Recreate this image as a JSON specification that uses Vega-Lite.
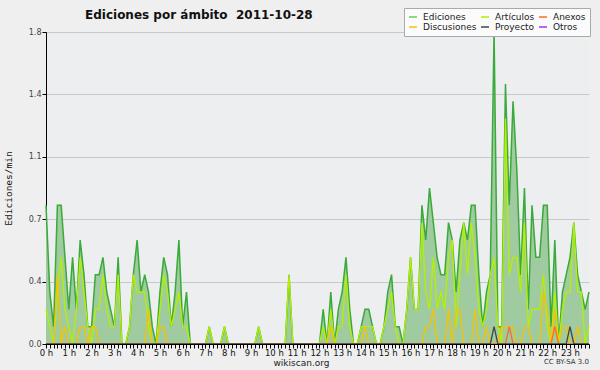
{
  "$schema": "https://vega.github.io/schema/vega-lite/v6.json",
  "width": 543,
  "height": 312,
  "autosize": "none",
  "padding": {"left": 46, "top": 32, "right": 11, "bottom": 26},
  "background": "#efefef",
  "title": {"text": "Ediciones por ámbito\u00a0 2011-10-28", "anchor": "start", "frame": "group", "dx": 39, "dy": 37, "offset": 14, "baseline": "alphabetic", "font": "DejaVu Sans", "fontSize": 12, "fontWeight": "bold", "color": "#111111"},
  "config": {"view": {"stroke": null, "fill": "#eceef0"}},
  "data": {"values": [
{"min":0,"Ediciones":0.8,"Artículos":0.2,"Discusiones":0,"Anexos":0,"Proyecto":0},
{"min":10,"Ediciones":0.3,"Artículos":0.1,"Discusiones":0,"Anexos":0,"Proyecto":0},
{"min":20,"Ediciones":0.1,"Artículos":0,"Discusiones":0,"Anexos":0,"Proyecto":0},
{"min":30,"Ediciones":0.8,"Artículos":0.3,"Discusiones":0.4,"Anexos":0,"Proyecto":0},
{"min":40,"Ediciones":0.8,"Artículos":0.5,"Discusiones":0,"Anexos":0,"Proyecto":0},
{"min":50,"Ediciones":0.5,"Artículos":0.2,"Discusiones":0.1,"Anexos":0,"Proyecto":0},
{"min":60,"Ediciones":0.2,"Artículos":0.1,"Discusiones":0,"Anexos":0,"Proyecto":0},
{"min":70,"Ediciones":0.5,"Artículos":0,"Discusiones":0,"Anexos":0,"Proyecto":0},
{"min":80,"Ediciones":0.2,"Artículos":0.2,"Discusiones":0,"Anexos":0,"Proyecto":0},
{"min":90,"Ediciones":0.6,"Artículos":0.5,"Discusiones":0.1,"Anexos":0,"Proyecto":0},
{"min":100,"Ediciones":0.4,"Artículos":0.3,"Discusiones":0.1,"Anexos":0,"Proyecto":0},
{"min":110,"Ediciones":0.1,"Artículos":0.1,"Discusiones":0,"Anexos":0,"Proyecto":0},
{"min":120,"Ediciones":0.1,"Artículos":0,"Discusiones":0.1,"Anexos":0,"Proyecto":0},
{"min":130,"Ediciones":0.4,"Artículos":0.2,"Discusiones":0.1,"Anexos":0,"Proyecto":0},
{"min":140,"Ediciones":0.4,"Artículos":0.2,"Discusiones":0,"Anexos":0,"Proyecto":0},
{"min":150,"Ediciones":0.5,"Artículos":0.4,"Discusiones":0,"Anexos":0,"Proyecto":0},
{"min":160,"Ediciones":0.3,"Artículos":0.2,"Discusiones":0,"Anexos":0,"Proyecto":0},
{"min":170,"Ediciones":0.2,"Artículos":0.1,"Discusiones":0,"Anexos":0,"Proyecto":0},
{"min":180,"Ediciones":0.1,"Artículos":0.1,"Discusiones":0,"Anexos":0,"Proyecto":0},
{"min":190,"Ediciones":0.5,"Artículos":0.4,"Discusiones":0,"Anexos":0,"Proyecto":0},
{"min":200,"Ediciones":0,"Artículos":0,"Discusiones":0,"Anexos":0,"Proyecto":0},
{"min":210,"Ediciones":0,"Artículos":0,"Discusiones":0,"Anexos":0,"Proyecto":0},
{"min":220,"Ediciones":0.1,"Artículos":0.1,"Discusiones":0,"Anexos":0,"Proyecto":0},
{"min":230,"Ediciones":0.4,"Artículos":0.4,"Discusiones":0,"Anexos":0,"Proyecto":0},
{"min":240,"Ediciones":0.6,"Artículos":0.3,"Discusiones":0,"Anexos":0,"Proyecto":0},
{"min":250,"Ediciones":0.3,"Artículos":0.3,"Discusiones":0,"Anexos":0,"Proyecto":0},
{"min":260,"Ediciones":0.4,"Artículos":0.3,"Discusiones":0,"Anexos":0,"Proyecto":0},
{"min":270,"Ediciones":0.3,"Artículos":0.1,"Discusiones":0.2,"Anexos":0,"Proyecto":0},
{"min":280,"Ediciones":0.1,"Artículos":0,"Discusiones":0,"Anexos":0,"Proyecto":0},
{"min":290,"Ediciones":0,"Artículos":0,"Discusiones":0,"Anexos":0,"Proyecto":0},
{"min":300,"Ediciones":0.3,"Artículos":0.2,"Discusiones":0.1,"Anexos":0,"Proyecto":0},
{"min":310,"Ediciones":0.5,"Artículos":0.4,"Discusiones":0.1,"Anexos":0,"Proyecto":0},
{"min":320,"Ediciones":0.4,"Artículos":0.3,"Discusiones":0,"Anexos":0,"Proyecto":0},
{"min":330,"Ediciones":0.1,"Artículos":0.1,"Discusiones":0,"Anexos":0,"Proyecto":0},
{"min":340,"Ediciones":0.3,"Artículos":0.2,"Discusiones":0,"Anexos":0,"Proyecto":0},
{"min":350,"Ediciones":0.6,"Artículos":0.3,"Discusiones":0,"Anexos":0,"Proyecto":0},
{"min":360,"Ediciones":0.1,"Artículos":0.1,"Discusiones":0,"Anexos":0,"Proyecto":0},
{"min":370,"Ediciones":0.3,"Artículos":0.1,"Discusiones":0,"Anexos":0,"Proyecto":0},
{"min":380,"Ediciones":0,"Artículos":0,"Discusiones":0,"Anexos":0,"Proyecto":0},
{"min":390,"Ediciones":0,"Artículos":0,"Discusiones":0,"Anexos":0,"Proyecto":0},
{"min":400,"Ediciones":0,"Artículos":0,"Discusiones":0,"Anexos":0,"Proyecto":0},
{"min":410,"Ediciones":0,"Artículos":0,"Discusiones":0,"Anexos":0,"Proyecto":0},
{"min":420,"Ediciones":0,"Artículos":0,"Discusiones":0,"Anexos":0,"Proyecto":0},
{"min":430,"Ediciones":0.1,"Artículos":0.1,"Discusiones":0,"Anexos":0,"Proyecto":0},
{"min":440,"Ediciones":0,"Artículos":0,"Discusiones":0,"Anexos":0,"Proyecto":0},
{"min":450,"Ediciones":0,"Artículos":0,"Discusiones":0,"Anexos":0,"Proyecto":0},
{"min":460,"Ediciones":0,"Artículos":0,"Discusiones":0,"Anexos":0,"Proyecto":0},
{"min":470,"Ediciones":0.1,"Artículos":0.1,"Discusiones":0,"Anexos":0,"Proyecto":0},
{"min":480,"Ediciones":0,"Artículos":0,"Discusiones":0,"Anexos":0,"Proyecto":0},
{"min":490,"Ediciones":0,"Artículos":0,"Discusiones":0,"Anexos":0,"Proyecto":0},
{"min":500,"Ediciones":0,"Artículos":0,"Discusiones":0,"Anexos":0,"Proyecto":0},
{"min":510,"Ediciones":0,"Artículos":0,"Discusiones":0,"Anexos":0,"Proyecto":0},
{"min":520,"Ediciones":0,"Artículos":0,"Discusiones":0,"Anexos":0,"Proyecto":0},
{"min":530,"Ediciones":0,"Artículos":0,"Discusiones":0,"Anexos":0,"Proyecto":0},
{"min":540,"Ediciones":0,"Artículos":0,"Discusiones":0,"Anexos":0,"Proyecto":0},
{"min":550,"Ediciones":0,"Artículos":0,"Discusiones":0,"Anexos":0,"Proyecto":0},
{"min":560,"Ediciones":0.1,"Artículos":0.1,"Discusiones":0,"Anexos":0,"Proyecto":0},
{"min":570,"Ediciones":0,"Artículos":0,"Discusiones":0,"Anexos":0,"Proyecto":0},
{"min":580,"Ediciones":0,"Artículos":0,"Discusiones":0,"Anexos":0,"Proyecto":0},
{"min":590,"Ediciones":0,"Artículos":0,"Discusiones":0,"Anexos":0,"Proyecto":0},
{"min":600,"Ediciones":0,"Artículos":0,"Discusiones":0,"Anexos":0,"Proyecto":0},
{"min":610,"Ediciones":0,"Artículos":0,"Discusiones":0,"Anexos":0,"Proyecto":0},
{"min":620,"Ediciones":0,"Artículos":0,"Discusiones":0,"Anexos":0,"Proyecto":0},
{"min":630,"Ediciones":0,"Artículos":0,"Discusiones":0,"Anexos":0,"Proyecto":0},
{"min":640,"Ediciones":0.4,"Artículos":0.4,"Discusiones":0,"Anexos":0,"Proyecto":0},
{"min":650,"Ediciones":0,"Artículos":0,"Discusiones":0,"Anexos":0,"Proyecto":0},
{"min":660,"Ediciones":0,"Artículos":0,"Discusiones":0,"Anexos":0,"Proyecto":0},
{"min":670,"Ediciones":0,"Artículos":0,"Discusiones":0,"Anexos":0,"Proyecto":0},
{"min":680,"Ediciones":0,"Artículos":0,"Discusiones":0,"Anexos":0,"Proyecto":0},
{"min":690,"Ediciones":0,"Artículos":0,"Discusiones":0,"Anexos":0,"Proyecto":0},
{"min":700,"Ediciones":0,"Artículos":0,"Discusiones":0,"Anexos":0,"Proyecto":0},
{"min":710,"Ediciones":0,"Artículos":0,"Discusiones":0,"Anexos":0,"Proyecto":0},
{"min":720,"Ediciones":0,"Artículos":0,"Discusiones":0,"Anexos":0,"Proyecto":0},
{"min":730,"Ediciones":0.2,"Artículos":0.1,"Discusiones":0,"Anexos":0,"Proyecto":0},
{"min":740,"Ediciones":0,"Artículos":0,"Discusiones":0,"Anexos":0,"Proyecto":0},
{"min":750,"Ediciones":0.3,"Artículos":0.2,"Discusiones":0.1,"Anexos":0,"Proyecto":0},
{"min":760,"Ediciones":0,"Artículos":0,"Discusiones":0,"Anexos":0,"Proyecto":0},
{"min":770,"Ediciones":0.2,"Artículos":0.1,"Discusiones":0,"Anexos":0,"Proyecto":0},
{"min":780,"Ediciones":0.3,"Artículos":0.1,"Discusiones":0,"Anexos":0,"Proyecto":0},
{"min":790,"Ediciones":0.5,"Artículos":0.4,"Discusiones":0,"Anexos":0,"Proyecto":0},
{"min":800,"Ediciones":0.2,"Artículos":0.1,"Discusiones":0,"Anexos":0,"Proyecto":0},
{"min":810,"Ediciones":0,"Artículos":0,"Discusiones":0,"Anexos":0,"Proyecto":0},
{"min":820,"Ediciones":0,"Artículos":0,"Discusiones":0,"Anexos":0,"Proyecto":0},
{"min":830,"Ediciones":0.1,"Artículos":0.1,"Discusiones":0,"Anexos":0,"Proyecto":0},
{"min":840,"Ediciones":0.2,"Artículos":0.1,"Discusiones":0.1,"Anexos":0,"Proyecto":0},
{"min":850,"Ediciones":0.2,"Artículos":0.1,"Discusiones":0,"Anexos":0,"Proyecto":0},
{"min":860,"Ediciones":0.1,"Artículos":0.1,"Discusiones":0,"Anexos":0,"Proyecto":0},
{"min":870,"Ediciones":0,"Artículos":0,"Discusiones":0,"Anexos":0,"Proyecto":0},
{"min":880,"Ediciones":0,"Artículos":0,"Discusiones":0,"Anexos":0,"Proyecto":0},
{"min":890,"Ediciones":0.1,"Artículos":0.1,"Discusiones":0,"Anexos":0,"Proyecto":0},
{"min":900,"Ediciones":0.3,"Artículos":0.2,"Discusiones":0,"Anexos":0,"Proyecto":0},
{"min":910,"Ediciones":0.4,"Artículos":0.3,"Discusiones":0,"Anexos":0,"Proyecto":0},
{"min":920,"Ediciones":0.1,"Artículos":0.1,"Discusiones":0,"Anexos":0,"Proyecto":0},
{"min":930,"Ediciones":0.1,"Artículos":0,"Discusiones":0,"Anexos":0,"Proyecto":0},
{"min":940,"Ediciones":0,"Artículos":0,"Discusiones":0,"Anexos":0,"Proyecto":0},
{"min":950,"Ediciones":0.2,"Artículos":0.2,"Discusiones":0,"Anexos":0,"Proyecto":0},
{"min":960,"Ediciones":0.5,"Artículos":0.5,"Discusiones":0,"Anexos":0,"Proyecto":0},
{"min":970,"Ediciones":0.2,"Artículos":0.2,"Discusiones":0,"Anexos":0,"Proyecto":0},
{"min":980,"Ediciones":0.2,"Artículos":0.2,"Discusiones":0,"Anexos":0,"Proyecto":0},
{"min":990,"Ediciones":0.8,"Artículos":0.7,"Discusiones":0,"Anexos":0,"Proyecto":0},
{"min":1000,"Ediciones":0.6,"Artículos":0.3,"Discusiones":0.1,"Anexos":0,"Proyecto":0},
{"min":1010,"Ediciones":0.9,"Artículos":0.2,"Discusiones":0.1,"Anexos":0,"Proyecto":0},
{"min":1020,"Ediciones":0.7,"Artículos":0.5,"Discusiones":0.2,"Anexos":0,"Proyecto":0},
{"min":1030,"Ediciones":0.5,"Artículos":0.2,"Discusiones":0,"Anexos":0,"Proyecto":0},
{"min":1040,"Ediciones":0.4,"Artículos":0.3,"Discusiones":0,"Anexos":0,"Proyecto":0},
{"min":1050,"Ediciones":0.4,"Artículos":0.2,"Discusiones":0,"Anexos":0,"Proyecto":0},
{"min":1060,"Ediciones":0.7,"Artículos":0.5,"Discusiones":0.2,"Anexos":0,"Proyecto":0},
{"min":1070,"Ediciones":0.6,"Artículos":0.6,"Discusiones":0,"Anexos":0,"Proyecto":0},
{"min":1080,"Ediciones":0.3,"Artículos":0.1,"Discusiones":0.2,"Anexos":0,"Proyecto":0},
{"min":1090,"Ediciones":0.6,"Artículos":0.4,"Discusiones":0.2,"Anexos":0,"Proyecto":0},
{"min":1100,"Ediciones":0.7,"Artículos":0.7,"Discusiones":0,"Anexos":0,"Proyecto":0},
{"min":1110,"Ediciones":0.6,"Artículos":0.4,"Discusiones":0,"Anexos":0,"Proyecto":0},
{"min":1120,"Ediciones":0.8,"Artículos":0.7,"Discusiones":0,"Anexos":0,"Proyecto":0},
{"min":1130,"Ediciones":0.8,"Artículos":0.5,"Discusiones":0.2,"Anexos":0,"Proyecto":0},
{"min":1140,"Ediciones":0.4,"Artículos":0.2,"Discusiones":0,"Anexos":0,"Proyecto":0},
{"min":1150,"Ediciones":0.1,"Artículos":0.1,"Discusiones":0,"Anexos":0,"Proyecto":0},
{"min":1160,"Ediciones":0.3,"Artículos":0.2,"Discusiones":0.1,"Anexos":0,"Proyecto":0},
{"min":1170,"Ediciones":0.4,"Artículos":0.4,"Discusiones":0,"Anexos":0,"Proyecto":0},
{"min":1180,"Ediciones":1.8,"Artículos":0.5,"Discusiones":0,"Anexos":0,"Proyecto":0.1},
{"min":1190,"Ediciones":0.1,"Artículos":0.1,"Discusiones":0,"Anexos":0,"Proyecto":0},
{"min":1200,"Ediciones":0.1,"Artículos":0,"Discusiones":0.1,"Anexos":0,"Proyecto":0},
{"min":1210,"Ediciones":1.5,"Artículos":1.3,"Discusiones":0.1,"Anexos":0,"Proyecto":0},
{"min":1220,"Ediciones":0.8,"Artículos":0.4,"Discusiones":0.1,"Anexos":0.1,"Proyecto":0},
{"min":1230,"Ediciones":1.4,"Artículos":0.5,"Discusiones":0.1,"Anexos":0,"Proyecto":0},
{"min":1240,"Ediciones":1.0,"Artículos":0.5,"Discusiones":0,"Anexos":0,"Proyecto":0},
{"min":1250,"Ediciones":0.4,"Artículos":0.3,"Discusiones":0,"Anexos":0,"Proyecto":0},
{"min":1260,"Ediciones":0.9,"Artículos":0.7,"Discusiones":0.1,"Anexos":0,"Proyecto":0},
{"min":1270,"Ediciones":0.2,"Artículos":0.1,"Discusiones":0.1,"Anexos":0,"Proyecto":0},
{"min":1280,"Ediciones":0.8,"Artículos":0.2,"Discusiones":0,"Anexos":0,"Proyecto":0},
{"min":1290,"Ediciones":0.5,"Artículos":0.2,"Discusiones":0,"Anexos":0,"Proyecto":0},
{"min":1300,"Ediciones":0.5,"Artículos":0.2,"Discusiones":0,"Anexos":0,"Proyecto":0},
{"min":1310,"Ediciones":0.8,"Artículos":0.4,"Discusiones":0.3,"Anexos":0,"Proyecto":0},
{"min":1320,"Ediciones":0.8,"Artículos":0.1,"Discusiones":0.2,"Anexos":0,"Proyecto":0},
{"min":1330,"Ediciones":0.1,"Artículos":0,"Discusiones":0,"Anexos":0,"Proyecto":0},
{"min":1340,"Ediciones":0.6,"Artículos":0.3,"Discusiones":0.2,"Anexos":0.1,"Proyecto":0},
{"min":1350,"Ediciones":0,"Artículos":0,"Discusiones":0,"Anexos":0,"Proyecto":0},
{"min":1360,"Ediciones":0.3,"Artículos":0.2,"Discusiones":0.1,"Anexos":0,"Proyecto":0},
{"min":1370,"Ediciones":0.4,"Artículos":0.3,"Discusiones":0.1,"Anexos":0,"Proyecto":0},
{"min":1380,"Ediciones":0.5,"Artículos":0.3,"Discusiones":0,"Anexos":0,"Proyecto":0.1},
{"min":1390,"Ediciones":0.7,"Artículos":0.7,"Discusiones":0,"Anexos":0,"Proyecto":0},
{"min":1400,"Ediciones":0.4,"Artículos":0.3,"Discusiones":0.1,"Anexos":0,"Proyecto":0},
{"min":1410,"Ediciones":0.3,"Artículos":0.3,"Discusiones":0,"Anexos":0,"Proyecto":0},
{"min":1420,"Ediciones":0.2,"Artículos":0,"Discusiones":0,"Anexos":0,"Proyecto":0},
{"min":1430,"Ediciones":0.3,"Artículos":0.1,"Discusiones":0,"Anexos":0,"Proyecto":0}
  ]},
  "layer": [
    {
      "mark": {"type": "area", "color": "#a0cba0", "opacity": 1, "line": {"color": "#3aaa3a", "strokeWidth": 1.5}},
      "encoding": {
        "x": {"field": "min", "type": "quantitative", "scale": {"domain": [0, 1430], "nice": false, "zero": false},
          "axis": {"tickCount": 144, "labelExpr": "datum.value % 60 == 0 ? (datum.value / 60) + ' h' : ''", "labelOverlap": false, "labelFlush": false, "labelBound": false, "tickSize": 4, "labelPadding": 0, "labelFont": "DejaVu Sans", "labelFontSize": 8.5, "labelColor": "#111111", "domainColor": "#000000", "tickColor": "#000000", "grid": false, "title": "wikiscan.org", "titleFont": "DejaVu Sans", "titleFontSize": 9, "titleFontWeight": "normal", "titleColor": "#222222", "titlePadding": 2, "titleX": 255, "zindex": 1}},
        "y": {"field": "Ediciones", "type": "quantitative", "scale": {"domain": [0, 1.8], "nice": false},
          "axis": {"values": [0, 0.09, 0.18, 0.27, 0.36, 0.45, 0.54, 0.63, 0.72, 0.81, 0.9, 0.99, 1.08, 1.17, 1.26, 1.35, 1.44, 1.53, 1.62, 1.71, 1.8],
            "labelExpr": "round(datum.value * 100) % 36 == 0 ? format(datum.value, '.1f') : ''",
            "gridOpacity": {"condition": {"test": "round(datum.value * 100) % 36 == 0", "value": 1}, "value": 0},
            "gridColor": "#c8c8c8", "labelOverlap": false, "labelFont": "DejaVu Sans", "labelFontSize": 8, "labelColor": "#444444", "labelPadding": 1, "tickSize": 4, "domainColor": "#000000", "tickColor": "#000000",
            "title": "Ediciones/min", "titleFont": "DejaVu Sans Mono", "titleFontSize": 9.5, "titleFontWeight": "normal", "titleColor": "#111111", "titlePadding": 15}}
      }
    },
    {
      "transform": [{"fold": ["Artículos", "Discusiones", "Anexos", "Proyecto"], "as": ["serie", "valor"]}],
      "mark": {"type": "line", "strokeWidth": 1.3},
      "encoding": {
        "x": {"field": "min", "type": "quantitative"},
        "y": {"field": "valor", "type": "quantitative"},
        "color": {"field": "serie", "type": "nominal",
          "scale": {"domain": ["Ediciones", "Discusiones", "Artículos", "Proyecto", "Anexos", "Otros"], "range": ["#66cc66", "#f5c300", "#b4f000", "#444444", "#ff6a2a", "#9933ff"]},
          "legend": {"title": null, "orient": "none", "legendX": 358, "legendY": -24, "columns": 3, "symbolType": "stroke", "symbolSize": 64, "symbolStrokeWidth": 1.5, "labelFont": "DejaVu Sans", "labelFontSize": 9, "labelColor": "#222222", "labelOffset": 5, "columnPadding": 1, "rowPadding": -1, "padding": 4, "fillColor": "#fbfbfb", "strokeColor": "#aaaaaa"}}
      }
    },
    {
      "data": {"values": [{"nota": "CC BY-SA 3.0"}]},
      "mark": {"type": "text", "align": "right", "baseline": "middle", "dy": 18, "font": "DejaVu Sans", "fontSize": 7, "color": "#333333"},
      "encoding": {"x": {"datum": 1430}, "y": {"datum": 0}, "text": {"field": "nota"}}
    }
  ]
}
